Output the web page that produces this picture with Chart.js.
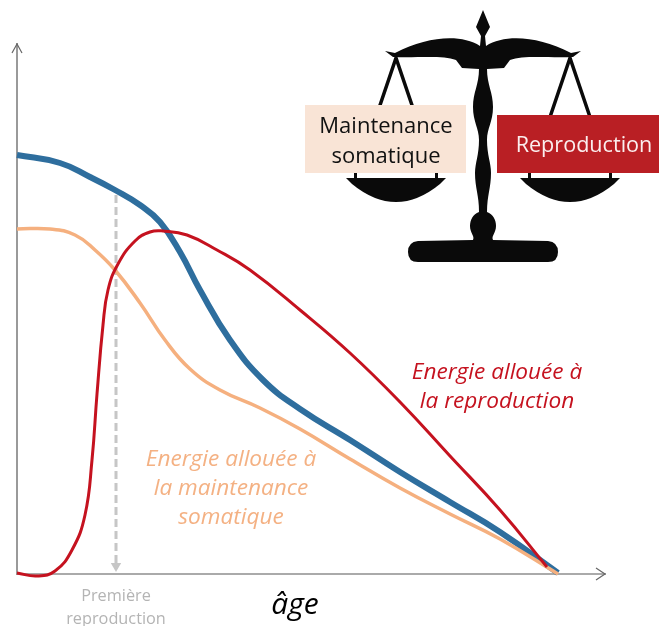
<!DOCTYPE html>
<html><head><meta charset="utf-8">
<style>html,body{margin:0;padding:0;background:#fff}#w{position:relative;width:659px;height:626px}</style>
<script src="https://cdn.jsdelivr.net/npm/chart.js@4"></script>
</head><body><div id="w"><canvas id="c" width="659" height="626"></canvas></div>
<script>
const blueAge=[0,10.75,18.25,24.5,30.75,35.75,40.75,45.75,53.25,61.5,70.75,83.25,95.75,108.25,120.75,135.25];
const blueEnergy=[83.8,82.2,79.4,76.8,73.8,70.4,64.4,56.8,46.8,38.8,33,26.8,20.4,14.4,8.4,0.2];
const maintAge=[0,8.25,14.5,19.5,24.5,30.75,37,43.25,50.75,60.75,70.75,83.25,95.75,108.25,120.75,135.25];
const maintEnergy=[69,69,67.8,64.8,60.8,54.2,46.8,41,36.8,33.2,29,23,17.2,12,7,0];
const reproAge=[0,5,9.5,13.75,17,18.75,20,21.5,22.75,25.25,29.5,33.25,36.5,42.5,50,58.25,70.75,83.25,95.75,108.25,120.75,132.5];
const reproEnergy=[0.2,-0.4,0.6,4.8,11.8,22.8,36,49.8,56.8,62,66.6,68.4,68.6,67.8,64.8,60.8,52.8,44.2,34.4,23.6,12.8,1.4];
const firstReproAge=24.75;
const firstReproEnergy=[75.8,1.6];
const firstReproLabel=['Première','reproduction'];
const xTitle='âge';
const pts=(a,b)=>a.map((x,i)=>({x,y:b[i]}));
const FONT='"Open Sans",sans-serif';

function text(ctx,s,x,y,font,color){ctx.font=font;ctx.fillStyle=color;ctx.textAlign='center';ctx.textBaseline='middle';ctx.fillText(s,x,y);}

const decor={id:'decor',
 beforeDatasetsDraw(ch){
  const c=ch.ctx;c.save();c.fillStyle='#0a0a0a';c.strokeStyle='#0a0a0a';
  const mx=483;
  c.beginPath();c.moveTo(mx,10);c.lineTo(mx+7,27);c.lineTo(mx+2,36);c.lineTo(mx+3,46);
  c.bezierCurveTo(mx+22,34,mx+55,36,mx+88,53);c.lineTo(mx+98,51);c.lineTo(mx+90,57);
  c.bezierCurveTo(mx+65,58,mx+40,55,mx+27,60);c.lineTo(mx+21,68);c.lineTo(mx+4,69);
  c.bezierCurveTo(mx+4,85,mx+10,92,mx+10,107);c.bezierCurveTo(mx+10,122,mx+4,128,mx+4,140);
  c.bezierCurveTo(mx+4,155,mx+8,163,mx+8,173);c.bezierCurveTo(mx+8,188,mx+4,195,mx+4,212);
  c.bezierCurveTo(mx+10,214,mx+13,220,mx+13,226);c.bezierCurveTo(mx+13,233,mx+8,236,mx+10,240);
  c.lineTo(mx+65,241);c.quadraticCurveTo(mx+75,242,mx+75,252);c.quadraticCurveTo(mx+75,262,mx+65,262);
  c.lineTo(mx-65,262);c.quadraticCurveTo(mx-75,262,mx-75,252);c.quadraticCurveTo(mx-75,242,mx-65,241);
  c.lineTo(mx-10,240);c.bezierCurveTo(mx-8,236,mx-13,233,mx-13,226);c.bezierCurveTo(mx-13,220,mx-10,214,mx-4,212);
  c.bezierCurveTo(mx-4,195,mx-8,188,mx-8,173);c.bezierCurveTo(mx-8,163,mx-4,155,mx-4,140);
  c.bezierCurveTo(mx-4,128,mx-10,122,mx-10,107);c.bezierCurveTo(mx-10,92,mx-4,85,mx-4,69);
  c.lineTo(mx-21,68);c.lineTo(mx-27,60);c.bezierCurveTo(mx-40,55,mx-65,58,mx-90,57);
  c.lineTo(mx-98,51);c.lineTo(mx-88,53);c.bezierCurveTo(mx-55,36,mx-22,34,mx-3,46);
  c.lineTo(mx-2,36);c.lineTo(mx-7,27);c.closePath();c.fill();
  [396,570].forEach(px=>{
   c.lineWidth=3.5;c.beginPath();c.moveTo(px-21,120);c.lineTo(px,58);c.lineTo(px+21,120);c.stroke();
   c.beginPath();c.moveTo(px-50,178);c.lineTo(px+50,178);c.lineTo(px+44,184);
   c.quadraticCurveTo(px,220,px-44,184);c.closePath();c.fill();
   c.fillRect(px-42,173,3,6);c.fillRect(px+39,173,3,6);
  });
  c.fillStyle='#f9e4d6';c.fillRect(305,105,161,68);
  c.fillStyle='#b91f24';c.fillRect(497,115,162,58);
  text(c,'Maintenance',386,127,'22px '+FONT,'#111');
  text(c,'somatique',386,157,'22px '+FONT,'#111');
  text(c,'Reproduction',584,146,'21.6px '+FONT,'#fbeeee');
  const o='italic 22.6px '+FONT;
  text(c,'Energie allouée à',231,460,o,'#f4b183');
  text(c,'la maintenance',231,489,o,'#f4b183');
  text(c,'somatique',231,518,o,'#f4b183');
  text(c,'Energie allouée à',497,373,o,'#c5121f');
  text(c,'la reproduction',497,402,o,'#c5121f');
  text(c,xTitle,295,605,'italic 30px '+FONT,'#000');
  const a=ch.chartArea;c.strokeStyle='#666';c.lineWidth=1.2;c.beginPath();
  c.moveTo(a.right-9,a.bottom-6);c.lineTo(a.right,a.bottom);c.lineTo(a.right-9,a.bottom+6);
  c.moveTo(a.left-5,a.top+9);c.lineTo(a.left,a.top);c.lineTo(a.left+5,a.top+9);c.stroke();
  c.restore();
 }};

const curve={showLine:true,pointRadius:0,tension:0.45,clip:false};
new Chart(document.getElementById('c'),{
 type:'scatter',
 data:{datasets:[
  {label:'Première reproduction',data:pts([firstReproAge,firstReproAge],firstReproEnergy),showLine:true,borderColor:'#c6c6c6',backgroundColor:'#c6c6c6',borderWidth:3,borderDash:[8,4],pointRadius:[0,6],pointStyle:'triangle',pointRotation:180,pointBorderWidth:0,order:4},
  {...curve,label:'Total',data:pts(blueAge,blueEnergy),borderColor:'#2e6e9e',borderWidth:6,order:3},
  {...curve,label:'Energie allouée à la maintenance somatique',data:pts(maintAge,maintEnergy),borderColor:'#f5b07f',borderWidth:3.5,order:2},
  {...curve,label:'Energie allouée à la reproduction',data:pts(reproAge,reproEnergy),borderColor:'#c5121f',borderWidth:3,order:1}
 ]},
 options:{
  responsive:false,animation:false,
  layout:{padding:{top:44,right:54,left:0,bottom:0}},
  plugins:{legend:{display:false},tooltip:{enabled:false}},
  scales:{
   x:{type:'linear',min:0,max:147,grid:{display:false,drawTicks:false},border:{color:'#aaaaaa',width:2},
    afterBuildTicks:s=>{s.ticks=[{value:firstReproAge}];},
    afterFit:s=>{s.height=52;},
    ticks:{autoSkip:false,maxRotation:0,padding:11,color:'#b4b4b4',font:{family:FONT,size:16.3,lineHeight:1.42},callback:()=>firstReproLabel}},
   y:{type:'linear',min:0,max:106,grid:{display:false,drawTicks:false},border:{color:'#9a9a9a',width:2},
    afterFit:s=>{s.width=17;},ticks:{display:false}}
  }
 },
 plugins:[decor]
});
</script></body></html>
